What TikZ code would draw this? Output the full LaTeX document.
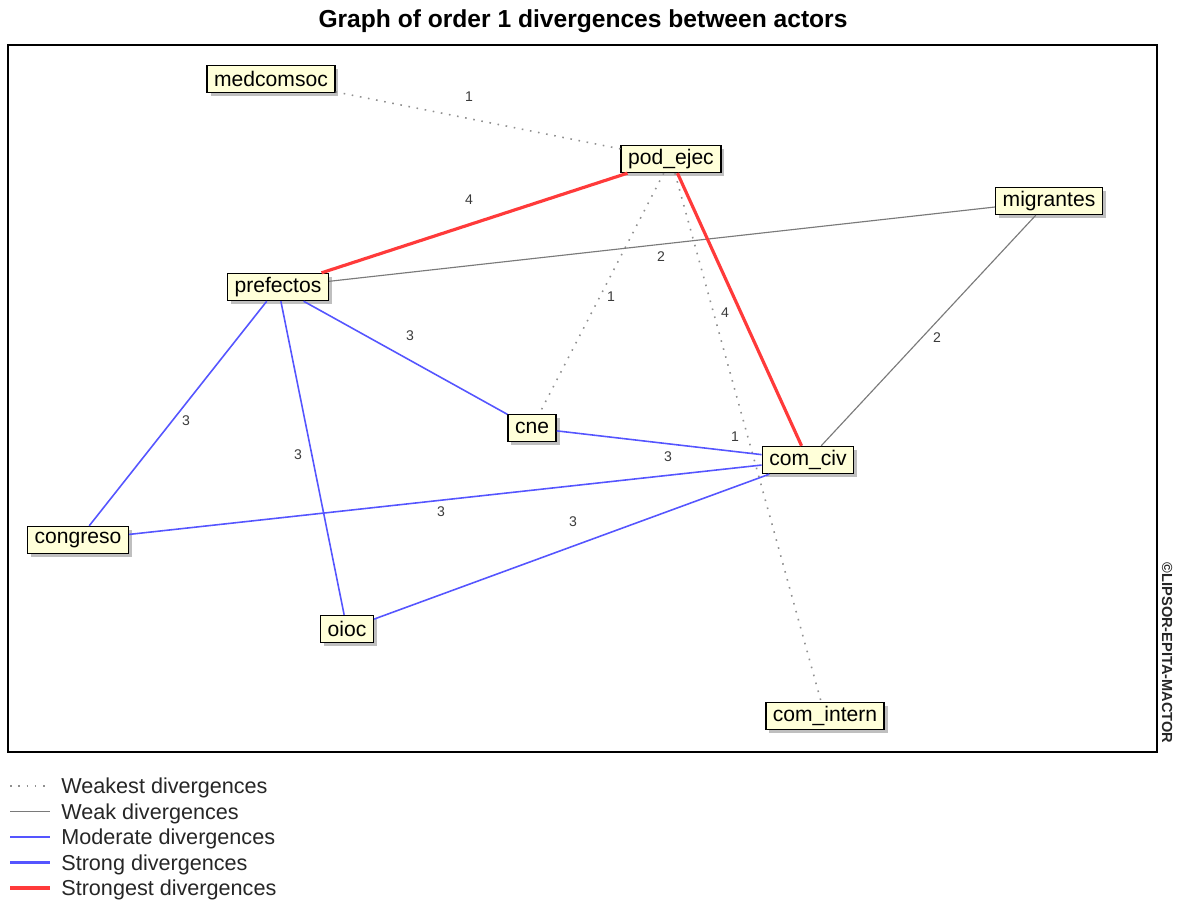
\documentclass[tikz,border=0pt]{standalone}
\usepackage{fontspec}
\setmainfont{Liberation Sans}
\usetikzlibrary{positioning, shadows}
\definecolor{boxfill}{HTML}{FFFFD9}
\definecolor{weakestgray}{HTML}{909090}
\definecolor{weakgray}{HTML}{7A7A7A}
\definecolor{modblue}{HTML}{5555FF}
\definecolor{strongred}{HTML}{FF3A3A}
\definecolor{labelgray}{HTML}{3A3A3A}

\begin{document}
\begin{tikzpicture}[x=0.02cm, y=-0.02cm,
    actor/.style={draw=black, line width=0.8pt, fill=boxfill, inner xsep=4pt, inner ysep=0pt,
      minimum height=0.54cm, font=\fontsize{12}{14}\selectfont,
      drop shadow={shadow xshift=0.07cm, shadow yshift=-0.07cm, fill=black!50, opacity=0.5}},
    weakest/.style={draw=weakestgray, line width=0.9pt, dash pattern=on 0.9pt off 3.8pt},
    weak/.style={draw=weakgray, line width=0.65pt},
    moderate/.style={draw=modblue, line width=0.9pt},
    strong/.style={draw=modblue, line width=1.8pt},
    strongest/.style={draw=strongred, line width=1.8pt},
    val/.style={font=\fontsize{8}{9}\selectfont, text=labelgray, inner sep=0pt}]
  \useasboundingbox (0,0) rectangle (1185,901);

  % title and frame
  \node[font=\bfseries\fontsize{14}{16}\selectfont] (title) at (583,21) {Graph of order 1 divergences between actors};
  \draw[line width=0.8pt] (8,45) rectangle (1157,752);
  \node[rotate=-90, font=\bfseries\fontsize{8.3}{10}\selectfont, text=black!85] (copyr) at (1167,653) {©LIPSOR-EPITA-MACTOR};

  % actors
  \node[actor] (medcomsoc) at (271,79) {medcomsoc};
  \node[actor] (pod_ejec) at (671,159) {pod\_ejec};
  \node[actor] (migrantes) at (1049,201) {migrantes};
  \node[actor] (prefectos) at (278,287) {prefectos};
  \node[actor] (cne) at (532,428) {cne};
  \node[actor] (com_civ) at (808,460) {com\_civ};
  \node[actor] (congreso) at (78,540) {congreso};
  \node[actor] (oioc) at (347,629) {oioc};
  \node[actor] (com_intern) at (825,716) {com\_intern};

  % divergences
  \draw[weakest] (medcomsoc) -- (pod_ejec);
  \draw[weakest] (pod_ejec) -- (cne);
  \draw[weakest] (pod_ejec) -- (com_intern);
  \draw[weak] (prefectos) -- (migrantes);
  \draw[weak] (migrantes) -- (com_civ);
  \draw[moderate] (prefectos) -- (cne);
  \draw[moderate] (prefectos) -- (congreso);
  \draw[moderate] (prefectos) -- (oioc);
  \draw[moderate] (cne) -- (com_civ);
  \draw[moderate] (congreso) -- (com_civ);
  \draw[moderate] (oioc) -- (com_civ);
  \draw[strongest] (pod_ejec) -- (prefectos);
  \draw[strongest] (pod_ejec) -- (com_civ);

  % intensities
  \node[val] (v_med) at (469,97) {1};
  \node[val] (v_pref) at (469,200) {4};
  \node[val] (v_mig) at (661,257) {2};
  \node[val] (v_cne) at (611,297) {1};
  \node[val] (v_civ) at (725,313) {4};
  \node[val] (v_int) at (735,437) {1};
  \node[val] (v_migciv) at (937,338) {2};
  \node[val] (v_prefcne) at (410,336) {3};
  \node[val] (v_cong) at (186,421) {3};
  \node[val] (v_oioc) at (298,455) {3};
  \node[val] (v_cneciv) at (668,457) {3};
  \node[val] (v_congciv) at (441,512) {3};
  \node[val] (v_oiocciv) at (573,522) {3};

  % legend
  \foreach \sty/\txt [count=\i] in {weakest/Weakest divergences, weak/Weak divergences,
      moderate/Moderate divergences, strong/Strong divergences, strongest/Strongest divergences} {
    \coordinate (leg\i a) at (10,760.5+25.5*\i);
    \coordinate (leg\i b) at (50,760.5+25.5*\i);
    \draw[\sty] (leg\i a) -- (leg\i b);
    \node[anchor=west, inner sep=0pt, font=\fontsize{12.3}{14}\selectfont, text=black!85] (legtxt\i) at (61,762.5+25.5*\i) {\txt};
  }
\end{tikzpicture}
\end{document}
